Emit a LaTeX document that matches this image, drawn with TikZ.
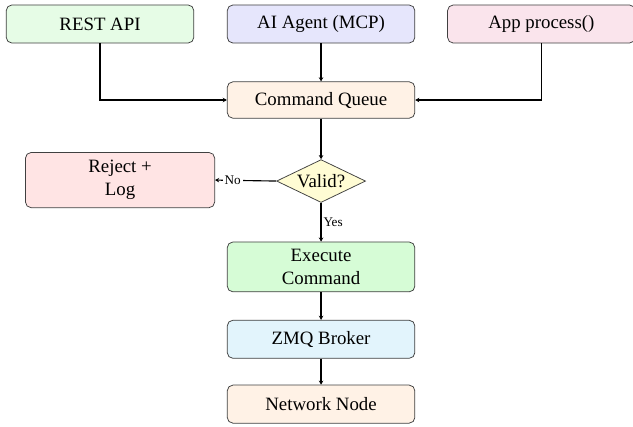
\documentclass[tikz,border=0pt]{standalone}
\usepackage{fontspec}
\setmainfont{Liberation Serif}
\usepackage{xcolor}
\usepackage{tikz}
\usetikzlibrary{positioning,calc,arrows.meta}
\usetikzlibrary{shapes,shapes.geometric}

\definecolor{restfill}{RGB}{230,252,230}
\definecolor{agentfill}{RGB}{230,230,252}
\definecolor{appfill}{RGB}{250,228,236}
\definecolor{queuefill}{RGB}{255,242,230}
\definecolor{rejectfill}{RGB}{255,228,228}
\definecolor{validfill}{RGB}{255,252,212}
\definecolor{execfill}{RGB}{214,252,214}
\definecolor{brokerfill}{RGB}{226,244,252}

\tikzset{
  procbox/.style={draw=black!75, rounded corners=3pt, minimum width=3.5cm,
                  minimum height=0.71cm, align=center, font=\normalsize},
  decision/.style={draw=black!75, diamond, aspect=2.1, fill=validfill,
                   inner sep=1pt, minimum width=1.66cm, minimum height=0.8cm},
  flow/.style={draw=black, semithick, -{Stealth[length=2.2pt,width=2.4pt]}},
  flowlabel/.style={font=\scriptsize, inner sep=1pt}
}

\begin{document}
\begin{tikzpicture}

% Column and row parameters (cm)
\def \xl{ 1.866 } % left column
\def \xc{ 5.990 } % middle column
\def \xr{10.100 } % right column

\useasboundingbox (0,0) rectangle (11.81,-7.95);

% The three command sources
\node[procbox, fill=restfill]  (rest)  at (\xl,-0.448) {REST API};
\node[procbox, fill=agentfill] (agent) at (\xc,-0.448) {AI Agent (MCP)};
\node[procbox, fill=appfill]   (app)   at (\xr,-0.448) {App process()};

% Queue and validation
\node[procbox, fill=queuefill, minimum height=0.68cm] (queue) at (\xc,-1.866)
  {Command Queue};
\node[decision] (valid) at (\xc,-3.378) {Valid?};
\node[procbox, fill=rejectfill, minimum width=3.53cm, minimum height=1.03cm]
  (reject) at (2.24,-3.36) {Reject +\\Log};

% Execution chain
\node[procbox, fill=execfill, minimum height=0.93cm] (exec) at (\xc,-4.98)
  {Execute\\Command};
\node[procbox, fill=brokerfill] (broker)  at (\xc,-6.33) {ZMQ Broker};
\node[procbox, fill=queuefill]  (network) at (\xc,-7.54) {Network Node};

% Sources into the queue
\draw[flow] (rest.south) |- (queue.west);
\draw[flow] (agent) -- (queue);
\draw[flow] (app.south)  |- (queue.east);

% Validation branches
\draw[flow] (queue) -- (valid);
\draw[flow] (valid.west) -- node[flowlabel, fill=white, pos=0.71] {No}
  (reject.east);
\draw[flow] (valid.south) -- node[flowlabel, right] {Yes} (exec.north);

% Down to the network
\draw[flow] (exec)   -- (broker);
\draw[flow] (broker) -- (network);
\end{tikzpicture}
\end{document}
